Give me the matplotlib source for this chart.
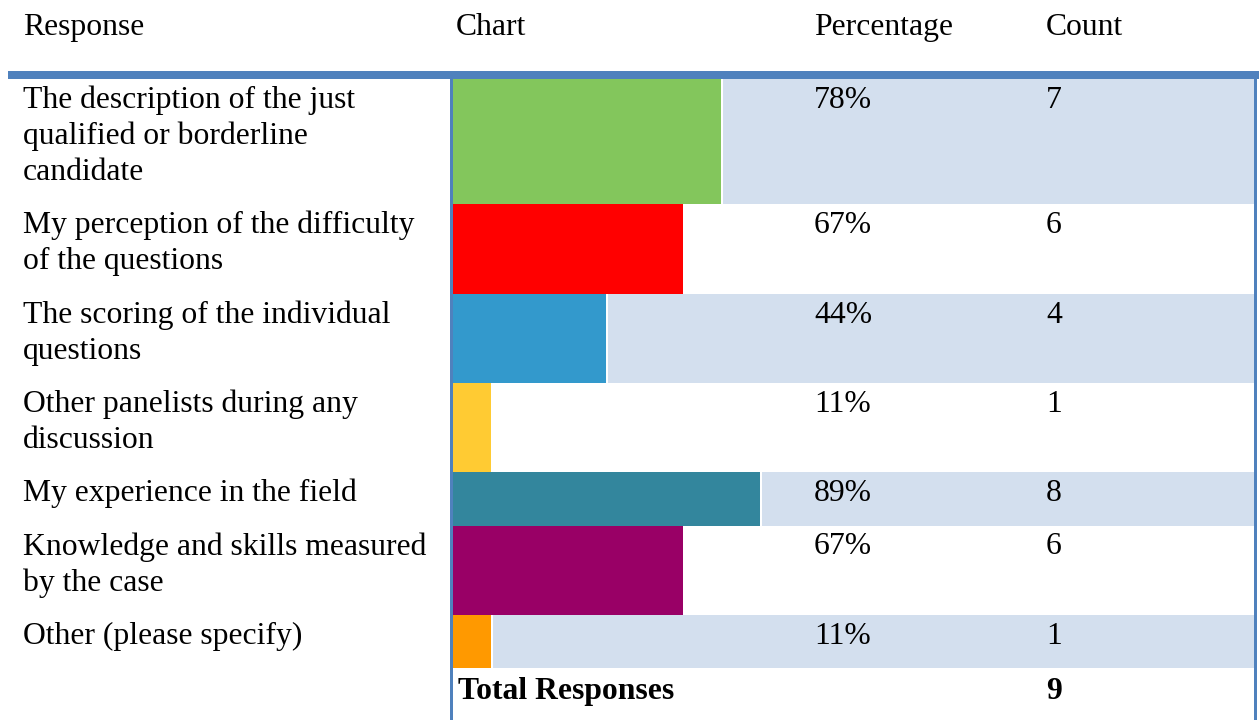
import matplotlib
matplotlib.use("Agg")
import matplotlib.pyplot as plt

# ---- data -------------------------------------------------------------
responses = [
    "The description of the just\nqualified or borderline\ncandidate",
    "My perception of the difficulty\nof the questions",
    "The scoring of the individual\nquestions",
    "Other panelists during any\ndiscussion",
    "My experience in the field",
    "Knowledge and skills measured\nby the case",
    "Other (please specify)",
]
counts = [7, 6, 4, 1, 8, 6, 1]
total_responses = 9
bar_colors = ["#83C65C", "#FF0000", "#3399CC", "#FFCB33",
              "#33869D", "#990066", "#FF9900"]
headers = ["Response", "Chart", "Percentage", "Count"]

# ---- styling ------------------------------------------------------------
W, H = 1259, 720
DPI = 100
FONT = "Liberation Serif"
FS = 22.8
LINE_H = 36
RULE = "#4F81BD"
BAND = "#D3DFEE"

col_x = {"resp": 23, "chart": 456, "pct": 814, "count": 1046}
chart_left, chart_right = 453, 1254
px_per_pct = 3.45          # width of 1 % of the bar scale in pixels
header_base = 35
body_top = 79

pcts = [c / total_responses * 100 for c in counts]

fig = plt.figure(figsize=(W / DPI, H / DPI), dpi=DPI)

# bar axes occupying the chart column, x in percent
xmax = (chart_right - chart_left) / px_per_pct
bax = fig.add_axes([chart_left / W, 0, (chart_right - chart_left) / W, 1])
bax.set_xlim(0, xmax)
bax.set_ylim(H, 0)
bax.axis("off")
bax.set_zorder(0)

# overlay axes in pixel units for text and rules
ax = fig.add_axes([0, 0, 1, 1])
ax.set_xlim(0, W)
ax.set_ylim(H, 0)
ax.axis("off")
ax.set_zorder(1)
ax.patch.set_alpha(0)

# row geometry from number of text lines
n_lines = [len(r.split("\n")) for r in responses]
heights = [LINE_H * n + 17.3 for n in n_lines]
tops = []
y = body_top
for h in heights:
    tops.append(y)
    y += h
total_top = y
centers = [t + h / 2 for t, h in zip(tops, heights)]

# banded background on alternate rows, starting just after the bar
gap = 2 / px_per_pct
band_idx = [i for i in range(len(pcts)) if i % 2 == 0]
bax.barh([centers[i] for i in band_idx],
         [xmax - pcts[i] - gap for i in band_idx],
         left=[pcts[i] + gap for i in band_idx],
         height=[heights[i] for i in band_idx],
         color=BAND, linewidth=0)

# the bars
bax.barh(centers, pcts, height=heights, color=bar_colors, linewidth=0)

# header row
for key, txt in zip(["resp", "chart", "pct", "count"], headers):
    ax.text(col_x[key], header_base, txt, fontsize=FS, family=FONT,
            va="baseline", ha="left", color="black")

# body rows
for i, (resp, t) in enumerate(zip(responses, tops)):
    base = t + 29
    for k, line in enumerate(resp.split("\n")):
        ax.text(col_x["resp"], base + k * LINE_H, line, fontsize=FS,
                family=FONT, va="baseline", ha="left", color="black")
    ax.text(col_x["pct"], base, f"{round(pcts[i])}%", fontsize=FS,
            family=FONT, va="baseline", ha="left", color="black")
    ax.text(col_x["count"], base, f"{counts[i]}", fontsize=FS,
            family=FONT, va="baseline", ha="left", color="black")

# total row
ax.text(458, total_top + 31, "Total Responses", fontsize=FS, family=FONT,
        fontweight="bold", va="baseline", ha="left", color="black")
ax.text(col_x["count"], total_top + 31, f"{total_responses}", fontsize=FS,
        family=FONT, fontweight="bold", va="baseline", ha="left", color="black")

# rules
ax.fill_between([8, W], 71, 79, color=RULE, linewidth=0)
ax.fill_betweenx([79, H], 450, 453, color=RULE, linewidth=0)
ax.fill_betweenx([79, H], 1254, 1257, color=RULE, linewidth=0)

fig.savefig("out.png", dpi=DPI)
